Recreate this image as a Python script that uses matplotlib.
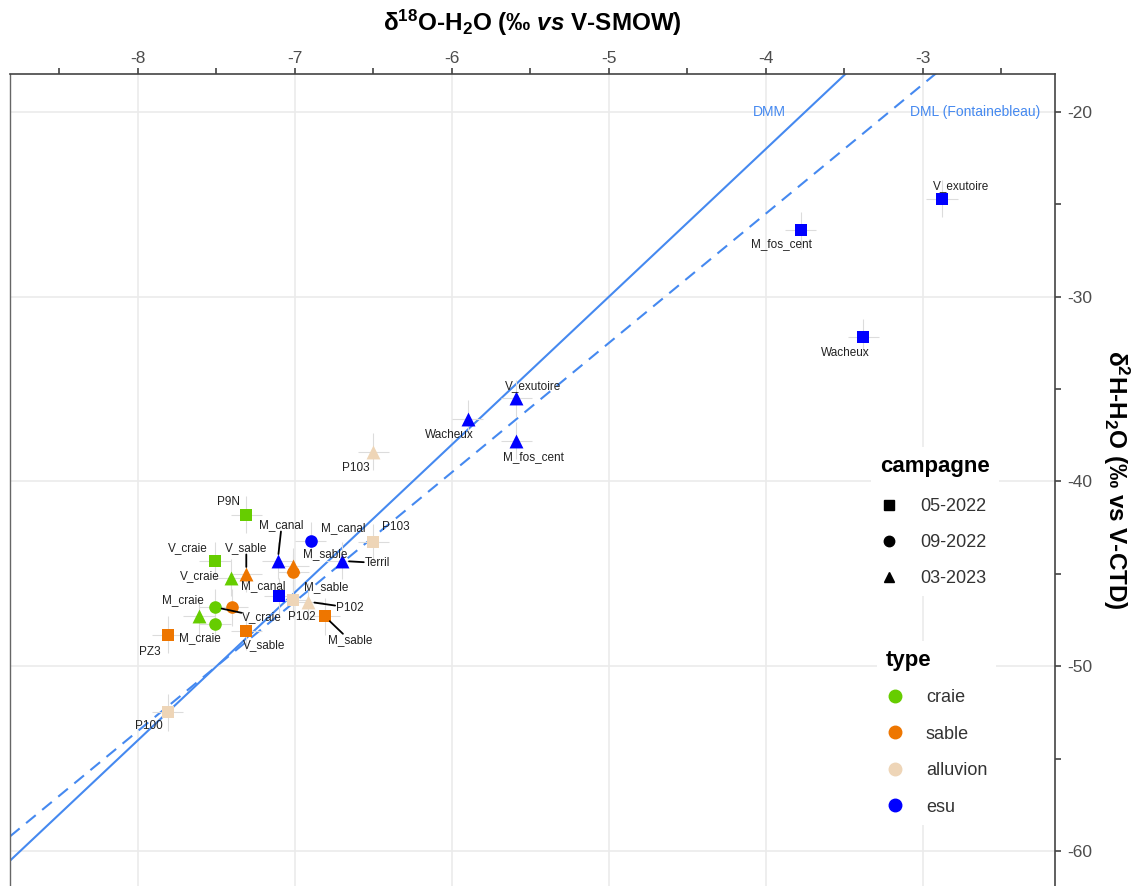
import matplotlib
matplotlib.use("Agg")
from matplotlib import pyplot as plt
from matplotlib.lines import Line2D
import numpy as np

plt.rcParams['font.family'] = ['Liberation Sans', 'DejaVu Sans']
plt.rcParams['mathtext.fontset'] = 'custom'
plt.rcParams['mathtext.rm'] = 'Liberation Sans:bold'
plt.rcParams['mathtext.it'] = 'Liberation Sans:bold:italic'
plt.rcParams['mathtext.bf'] = 'Liberation Sans:bold'

# ---- data ----
site = ["V_exutoire", "M_fos_cent", "Wacheux", "Wacheux", "V_exutoire", "M_fos_cent",
        "M_canal", "M_canal", "Terril", "M_canal",
        "P9N", "V_craie", "V_craie", "V_craie", "M_craie", "M_craie",
        "V_sable", "M_sable", "M_sable", "V_sable", "V_sable", "M_sable", "PZ3",
        "P103", "P103", "P102", "P102", "P100"]
kind = ["esu"] * 10 + ["craie"] * 6 + ["sable"] * 7 + ["alluvion"] * 5
campagne = ["05-2022", "05-2022", "05-2022", "03-2023", "03-2023", "03-2023",
            "09-2022", "03-2023", "03-2023", "05-2022",
            "05-2022", "05-2022", "03-2023", "09-2022", "09-2022", "03-2023",
            "03-2023", "09-2022", "03-2023", "09-2022", "05-2022", "05-2022", "05-2022",
            "05-2022", "03-2023", "05-2022", "03-2023", "05-2022"]
d18O = [-2.88, -3.78, -3.38, -5.90, -5.59, -5.59,
        -6.90, -7.11, -6.70, -7.10,
        -7.31, -7.51, -7.41, -7.51, -7.51, -7.61,
        -7.31, -7.01, -7.01, -7.40, -7.31, -6.81, -7.81,
        -6.50, -6.50, -7.01, -6.92, -7.81]
d2H = [-24.7, -26.4, -32.2, -36.6, -35.5, -37.8,
       -43.2, -44.3, -44.3, -46.2,
       -41.8, -44.3, -45.2, -46.8, -47.7, -47.3,
       -45.0, -44.9, -44.6, -46.8, -48.1, -47.3, -48.3,
       -43.3, -38.4, -46.4, -46.5, -52.5]
err_d18O = 0.1
err_d2H = 1.0

# meteoric water lines (slope, intercept)
dmm = (8.0, 10.0)
dml = (7.0, 2.5)

campagnes = ["05-2022", "09-2022", "03-2023"]
types = ["craie", "sable", "alluvion", "esu"]

# ---- styles ----
colors = {"craie": "#66CD00", "sable": "#EE7600", "alluvion": "#EED5B7", "esu": "#0000FF"}
markers = {"05-2022": "s", "09-2022": "o", "03-2023": "^"}
msize = {"05-2022": 64, "09-2022": 82, "03-2023": 100}
line_col = "#4589F0"

# label offsets in pixels (dx, dy), and whether a segment links label and point
label_off = [(19, 13), (-19, -14), (-18, -16), (-18, -16), (17, 12), (17, -16),
             (33, 13), (4, 36), (35, -2), (-16, 10),
             (-18, 13), (-27, 13), (-31, 1), (47, -10), (-15, -14), (-16, 16),
             (0, 26), (33, -15), (32, 12), None, (18, -14), (25, -24), (-18, -17),
             (22, 15), (-18, -16), (8, -17), (42, -6), (-19, -14)]
label_seg = [False] * 7 + [True, True, False] + [False] * 3 + [True, False, False] + \
            [True, False, False, False, False, True, False] + [False, False, False, True, False]

W, H = 1134, 886
fig = plt.figure(figsize=(W / 100, H / 100), dpi=100)
ax = fig.add_axes([10 / W, 0, 1045 / W, 812 / H])

xlim = (-8.815, -2.159)
ylim = (-61.89, -17.95)
ax.set_xlim(xlim)
ax.set_ylim(ylim)

# grid + axes style
ax.set_xticks(np.arange(-8, -2, 1))
ax.set_xticks(np.arange(-8.5, -2, 1), minor=True)
ax.set_yticks(np.arange(-60, -19, 10))
ax.set_yticks(np.arange(-55, -19, 10), minor=True)
ax.xaxis.tick_top()
ax.xaxis.set_label_position("top")
ax.yaxis.tick_right()
ax.yaxis.set_label_position("right")
ax.set_xticklabels([str(v) for v in range(-8, -2)])
ax.set_yticklabels([str(v) for v in range(-60, -19, 10)])
ax.tick_params(which="both", direction="out", length=4, width=1.1, color="#333333",
               labelsize=12.5, labelcolor="#4D4D4D", pad=5)
ax.tick_params(axis="x", which="both", pad=1.5)
ax.grid(True, which="major", color="#EBEBEB", lw=1.2, zorder=0)
ax.set_axisbelow(True)
for s in ["top", "right"]:
    ax.spines[s].set_color("#444444")
    ax.spines[s].set_linewidth(1.2)
ax.spines["left"].set_color("#666666")
ax.spines["left"].set_linewidth(1.0)
ax.spines["bottom"].set_visible(False)

ax.set_xlabel("δ$^{18}$O-H$_2$O (‰ $\\it{vs}$ V-SMOW)", fontsize=17.5, fontweight="bold", labelpad=15)
ax.set_ylabel("δ$^{2}$H-H$_2$O (‰ vs V-CTD)", fontsize=17.5, fontweight="bold",
              rotation=270, labelpad=28)

# water lines
xx = np.array(xlim)
ax.plot(xx, dmm[0] * xx + dmm[1], color=line_col, lw=1.5, zorder=2)
ld, = ax.plot(xx, dml[0] * xx + dml[1], color=line_col, lw=1.5, zorder=2)
ld.set_dashes((6, 4))
ax.text(-3.98, -20, "DMM", color=line_col, fontsize=10, ha="center", va="center")
ax.text(-2.67, -20, "DML (Fontainebleau)", color=line_col, fontsize=10, ha="center", va="center")

# error bars
ax.errorbar(d18O, d2H, xerr=err_d18O, yerr=err_d2H, fmt="none", ecolor="#DCDCDC",
            elinewidth=0.8, zorder=3)

# points
for x, y, k, c in zip(d18O, d2H, kind, campagne):
    ax.scatter([x], [y], marker=markers[c], s=msize[c], color=colors[k], linewidths=0, zorder=4)

# labels
for i, (x, y) in enumerate(zip(d18O, d2H)):
    if label_off[i] is None:
        continue
    kw = {}
    if label_seg[i]:
        kw["arrowprops"] = dict(arrowstyle="-", color="black", lw=1.3, shrinkA=0, shrinkB=5)
    ax.annotate(site[i], (x, y), xytext=label_off[i], textcoords="offset pixels",
                fontsize=8.5, color="#222222", ha="center", va="center",
                bbox=dict(boxstyle="square,pad=0.05", fc="none", ec="none"), zorder=5, **kw)

# legends
h_camp = [Line2D([], [], ls="none", marker=markers[c], color="black", markersize=7.5)
          for c in campagnes]
h_type = [Line2D([], [], ls="none", marker="o", color=colors[t], markersize=9)
          for t in types]
leg_style = dict(frameon=True, facecolor="white", edgecolor="none", framealpha=1,
                 fancybox=False, fontsize=13, title_fontproperties={"weight": "bold", "size": 16},
                 handlelength=1.0, borderpad=0.5,
                 labelcolor="#333333", alignment="left", bbox_transform=fig.transFigure)
leg1 = ax.legend(h_camp, campagnes, title="campagne", loc="upper left", labelspacing=1.06,
                 handletextpad=1.2, bbox_to_anchor=(862 / W, 1 - 438 / H), **leg_style)
leg1._legend_box.sep = 15
leg2 = ax.legend(h_type, types, title="type", loc="upper left", labelspacing=1.08,
                 handletextpad=1.2, bbox_to_anchor=(868 / W, 1 - 632 / H), **leg_style)
leg2._legend_box.sep = 13
ax.add_artist(leg1)
leg1.set_zorder(6)
leg2.set_zorder(6)

fig.savefig("out.png", dpi=100)
